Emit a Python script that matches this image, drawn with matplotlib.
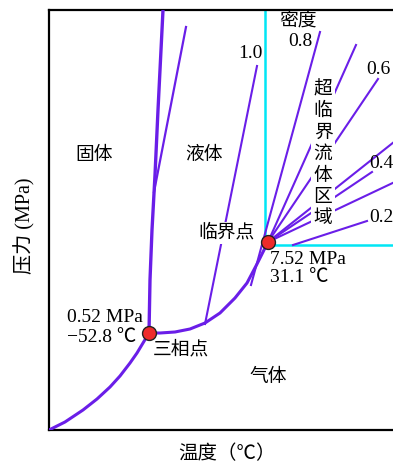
import numpy as np
import matplotlib.pyplot as plt

plt.rcParams['font.family'] = ['Liberation Serif', 'Noto Sans CJK SC', 'DejaVu Sans']

# 示意图坐标（温度方向, 压力方向），无真实刻度
# 升华曲线
sub_T = [0, 16, 34, 48, 61, 71, 81, 88, 94, 100]
sub_P = [0, 8, 20, 31, 43, 54, 67, 77, 87, 97]
# 熔化曲线
melt_T = [100, 101, 103, 106, 109, 112, 114]
melt_P = [97, 150, 200, 255, 320, 380, 420]
# 熔化曲线分支
branch_T = [105, 137]
branch_P = [238, 403]
# 汽化曲线
vap_T = [100, 111, 126, 141, 156, 171, 186, 198, 208, 214, 219]
vap_P = [97, 97, 98, 101, 107, 117, 132, 147, 166, 178, 188]

triple = (100, 97)
critical = (219, 188)
cyan_T, cyan_P = 216, 185

# 等密度线
rho_10 = ([156, 208], [106, 364])
rho_08 = ([202, 271], [145, 398])
fan_end_T = [307, 329, 350, 323, 350]
fan_end_P = [385, 351, 292, 258, 250]
rho_02 = ([244, 318], [185, 209])

purple = '#6a1ee8'
cyan = '#00e6f5'

fig = plt.figure(figsize=(3.93, 4.62), dpi=100)
ax = fig.add_axes([49/393, 32/462, 344/393, 420/462])
ax.set_xlim(0, 344)
ax.set_ylim(0, 420)

# 超临界区边界
ax.plot([cyan_T, cyan_T], [cyan_P, 420], color=cyan, lw=1.8, zorder=2)
ax.plot([cyan_T, 344], [cyan_P, cyan_P], color=cyan, lw=1.8, zorder=2)

# 等密度线
ax.plot(*rho_10, color=purple, lw=1.5, zorder=3)
ax.plot(*rho_08, color=purple, lw=1.5, zorder=3)
for t, p in zip(fan_end_T, fan_end_P):
    ax.plot([critical[0], t], [critical[1], p], color=purple, lw=1.5, zorder=3)
ax.plot(*rho_02, color=purple, lw=1.5, zorder=3)

# 相界线
ax.plot(sub_T, sub_P, color=purple, lw=2.2, zorder=4, solid_capstyle='round')
ax.plot(melt_T, melt_P, color=purple, lw=2.4, zorder=4)
ax.plot(branch_T, branch_P, color=purple, lw=1.6, zorder=4)
ax.plot(vap_T, vap_P, color=purple, lw=2.2, zorder=4)

ax.plot(*triple, 'o', ms=10, mfc='#ee2b2b', mec='#222222', mew=1.0, zorder=6, clip_on=False)
ax.plot(*critical, 'o', ms=10, mfc='#ee2b2b', mec='#222222', mew=1.0, zorder=6, clip_on=False)

fs = 13.5
ax.text(45, 275, '固体', fontsize=fs, ha='center', va='center')
ax.text(155, 275, '液体', fontsize=fs, ha='center', va='center')
ax.text(219, 53, '气体', fontsize=fs, ha='center', va='center')
ax.text(132, 80, '三相点', fontsize=fs, ha='center', va='center')
ax.text(177, 197, '临界点', fontsize=fs, ha='center', va='center', zorder=5,
        bbox=dict(boxstyle='square,pad=0.1', fc='white', ec='none'))
ax.text(249, 408, '密度', fontsize=fs, ha='center', va='center')

nfs = 14
ax.text(201, 377, '1.0', fontsize=nfs, ha='center', va='center')
ax.text(251, 388, '0.8', fontsize=nfs, ha='center', va='center')
ax.text(329, 361, '0.6', fontsize=nfs, ha='center', va='center')
ax.text(320, 267, '0.4', fontsize=nfs, ha='left', va='center', clip_on=True)
ax.text(320, 212, '0.2', fontsize=nfs, ha='left', va='center', clip_on=True)

ax.text(221, 170, '7.52 MPa', fontsize=nfs, ha='left', va='center')
ax.text(221, 152, '31.1 ℃', fontsize=nfs, ha='left', va='center')
ax.text(18, 112, '0.52 MPa', fontsize=nfs, ha='left', va='center')
ax.text(18, 92, '−52.8 ℃', fontsize=nfs, ha='left', va='center')

# 竖排文字
for i, ch in enumerate('超临界流体区域'):
    ax.text(274, 340 - i * 21.5, ch, fontsize=fs, ha='center', va='center', zorder=5,
            bbox=dict(boxstyle='square,pad=0.12', fc='white', ec='none'))

for side in ['left', 'top', 'bottom']:
    ax.spines[side].set_linewidth(1.6)
ax.spines['right'].set_visible(False)
ax.set_xticks([])
ax.set_yticks([])

fig.text(227/393, 1 - 454/462, '温度（℃）', fontsize=14, ha='center', va='center')
fig.text(25/393, 1 - 226/462, '压力 (MPa)', fontsize=14.5, ha='center', va='center', rotation=90)

fig.savefig('out.png', dpi=100)
